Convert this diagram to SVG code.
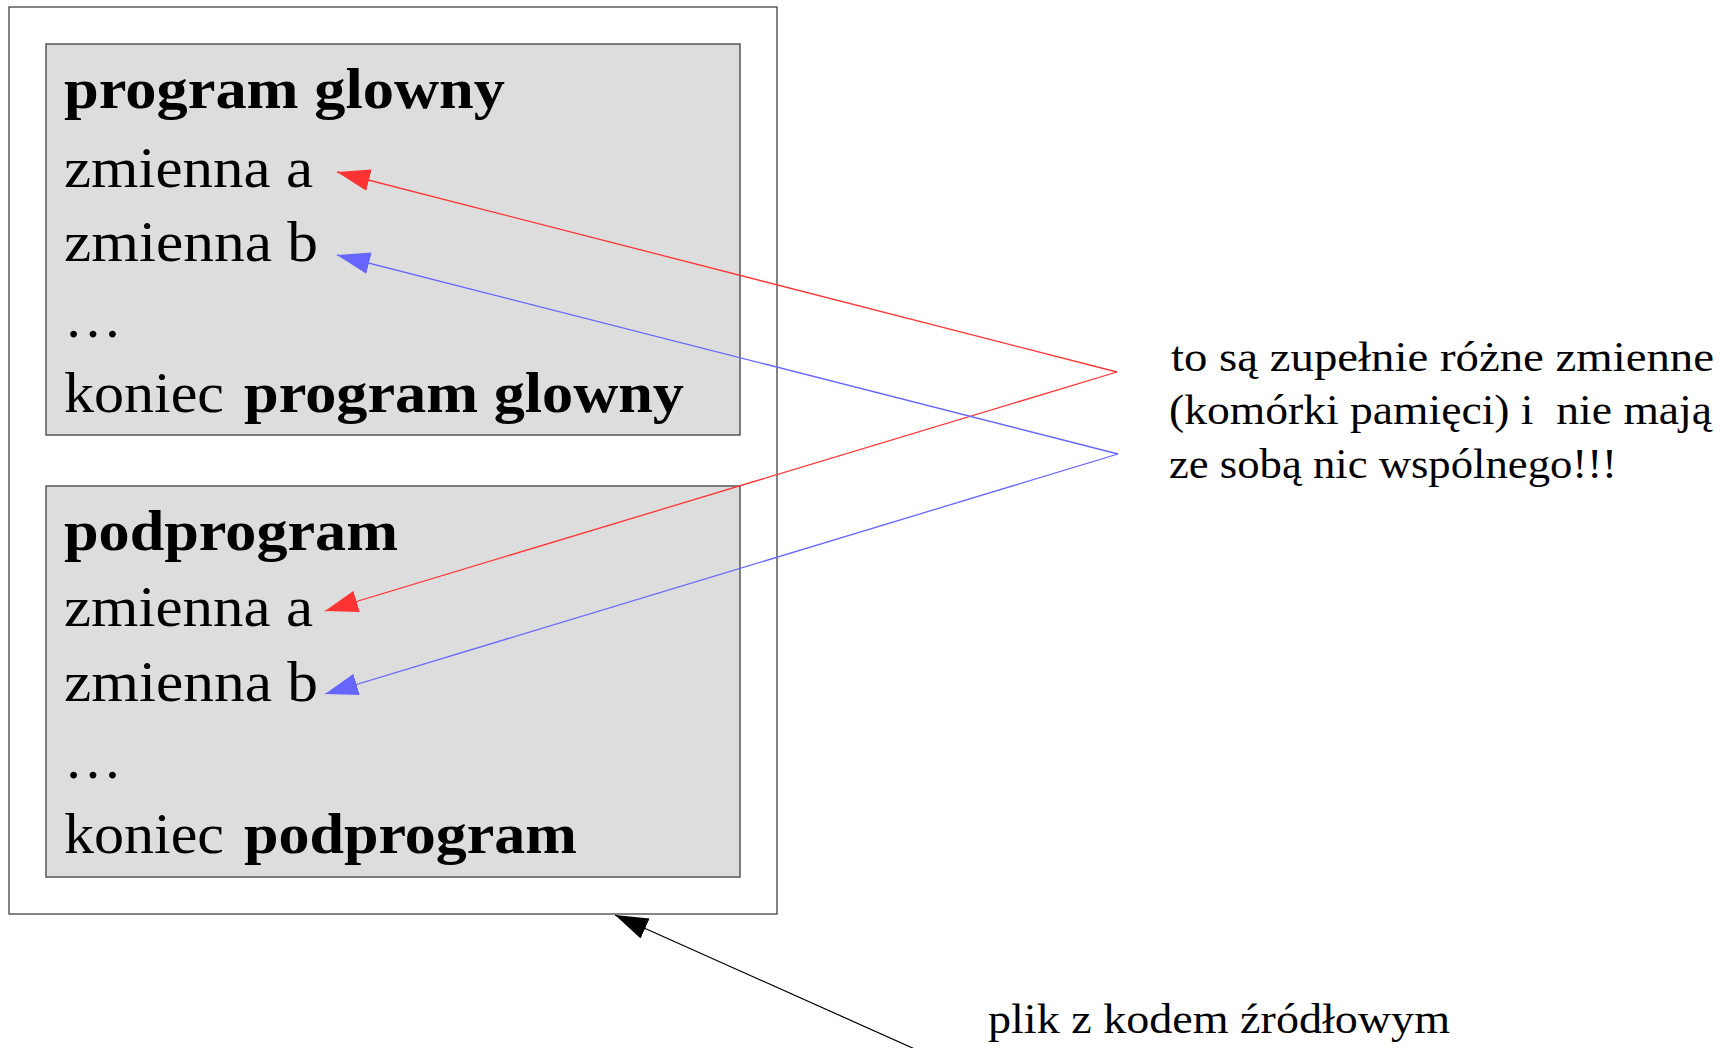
<svg xmlns="http://www.w3.org/2000/svg" width="1731" height="1048" viewBox="0 0 1731 1048">
  <style>
    .main { font-family: "Liberation Serif", "DejaVu Serif", serif; font-size: 58px; fill: #000; }
    .b { font-weight: bold; }
    .note { font-family: "Liberation Serif", "DejaVu Serif", serif; font-size: 43px; fill: #000; white-space: pre; }
    .panel { fill: #dddddd; stroke: #555555; stroke-width: 1.5; }
    .file { fill: #ffffff; stroke: #333333; stroke-width: 1.2; }
    .red { stroke: #ff3333; stroke-width: 1.3; fill: none; }
    .blue { stroke: #6666ff; stroke-width: 1.3; fill: none; }
    .black { stroke: #000000; stroke-width: 1.2; fill: none; }
  </style>
  <defs>
    <marker id="headRed" viewBox="0 0 33 22" refX="33" refY="11" markerWidth="33" markerHeight="22" markerUnits="userSpaceOnUse" orient="auto">
      <path d="M0,0 L33,11 L0,22 z" fill="#ff3333"/>
    </marker>
    <marker id="headBlue" viewBox="0 0 33 22" refX="33" refY="11" markerWidth="33" markerHeight="22" markerUnits="userSpaceOnUse" orient="auto">
      <path d="M0,0 L33,11 L0,22 z" fill="#6666ff"/>
    </marker>
    <marker id="headBlack" viewBox="0 0 33 22" refX="33" refY="11" markerWidth="33" markerHeight="22" markerUnits="userSpaceOnUse" orient="auto">
      <path d="M0,0 L33,11 L0,22 z" fill="#000000"/>
    </marker>
  </defs>

  <rect width="1731" height="1048" fill="#ffffff"/>

  <!-- source file frame -->
  <g id="source-file">
    <rect class="file" x="9" y="7" width="768" height="907"/>
  </g>

  <!-- main program block -->
  <g id="main-program">
    <rect class="panel" x="46" y="44" width="694" height="391"/>
    <text class="main b" x="64" y="108" textLength="441" lengthAdjust="spacingAndGlyphs">program glowny</text>
    <text class="main" x="64" y="187" textLength="249" lengthAdjust="spacingAndGlyphs">zmienna a</text>
    <text class="main" x="64" y="261" textLength="254" lengthAdjust="spacingAndGlyphs">zmienna b</text>
    <text class="main" x="64" y="337">…</text>
    <text class="main" x="64" y="412" textLength="160" lengthAdjust="spacingAndGlyphs">koniec</text>
    <text class="main b" x="244" y="412" textLength="440" lengthAdjust="spacingAndGlyphs">program glowny</text>
  </g>

  <!-- subprogram block -->
  <g id="subprogram">
    <rect class="panel" x="46" y="486" width="694" height="391"/>
    <text class="main b" x="64" y="550" textLength="334" lengthAdjust="spacingAndGlyphs">podprogram</text>
    <text class="main" x="64" y="626" textLength="249" lengthAdjust="spacingAndGlyphs">zmienna a</text>
    <text class="main" x="64" y="701" textLength="254" lengthAdjust="spacingAndGlyphs">zmienna b</text>
    <text class="main" x="64" y="778">…</text>
    <text class="main" x="64" y="853" textLength="160" lengthAdjust="spacingAndGlyphs">koniec</text>
    <text class="main b" x="244" y="853" textLength="333" lengthAdjust="spacingAndGlyphs">podprogram</text>
  </g>

  <!-- explanatory note -->
  <g id="note-variables">
    <text class="note" x="1171" y="371" textLength="543" lengthAdjust="spacingAndGlyphs">to są zupełnie różne zmienne</text>
    <text class="note" x="1169" y="424" textLength="543" lengthAdjust="spacingAndGlyphs">(komórki pamięci) i  nie mają</text>
    <text class="note" x="1169" y="478" textLength="448" lengthAdjust="spacingAndGlyphs">ze sobą nic wspólnego!!!</text>
  </g>

  <!-- file caption -->
  <g id="note-file">
    <text class="note" x="988" y="1033" textLength="462" lengthAdjust="spacingAndGlyphs">plik z kodem źródłowym</text>
  </g>

  <!-- connectors -->
  <g id="connectors">
    <line class="red" x1="1117" y1="372" x2="337" y2="172" marker-end="url(#headRed)"/>
    <line class="red" x1="1117" y1="372" x2="325" y2="611" marker-end="url(#headRed)"/>
    <line class="blue" x1="1118" y1="454" x2="337" y2="255" marker-end="url(#headBlue)"/>
    <line class="blue" x1="1118" y1="454" x2="325" y2="694" marker-end="url(#headBlue)"/>
    <line class="black" x1="917" y1="1050" x2="615" y2="915" marker-end="url(#headBlack)"/>
  </g>
</svg>
